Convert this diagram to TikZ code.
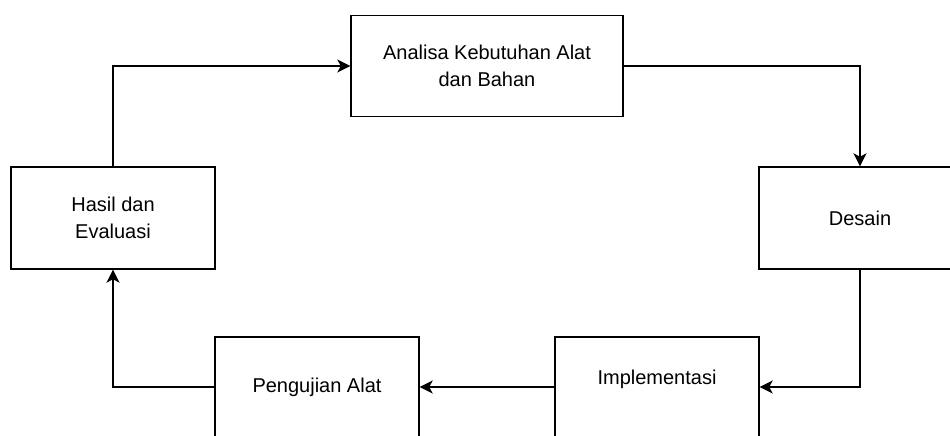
\documentclass[tikz,border=0pt]{standalone}
\usepackage{fontspec}
\setmainfont{Liberation Sans}
\usetikzlibrary{arrows.meta}
\begin{document}
\begin{tikzpicture}[x=1pt,y=-1pt,
  box/.style={draw=black,line width=1.4pt,fill=white,align=center,
    inner sep=0pt,font=\fontsize{20}{26.5}\selectfont,text=black},
  conn/.style={draw=black,line width=1.4pt,
    -{Stealth[length=13pt,width=13pt,inset=3.5pt]}}]
\clip (0,0) rectangle (950,436);
\fill[white] (0,0) rectangle (950,436);
\node[box,minimum width=272pt,minimum height=101pt] (ana) at (487,66) {Analisa Kebutuhan Alat\\dan Bahan};
\node[box,minimum width=202pt,minimum height=102pt] (des) at (860,218) {Desain};
\node[box,minimum width=204pt,minimum height=102pt] (has) at (113,218) {Hasil dan\\Evaluasi};
\node[box,minimum width=204pt,minimum height=100pt] (pen) at (317,387) {Pengujian Alat};
\node[box,minimum width=204pt,minimum height=100pt,
  label={[font=\fontsize{20}{26.5}\selectfont,text=black,yshift=8pt]center:Implementasi}] (imp) at (657,387) {};
\draw[conn] (has.north) |- (ana.west);
\draw[conn] (ana.east) -| (des.north);
\draw[conn] (des.south) |- (imp.east);
\draw[conn] (imp.west) -- (pen.east);
\draw[conn] (pen.west) -| (has.south);
\end{tikzpicture}
\end{document}
